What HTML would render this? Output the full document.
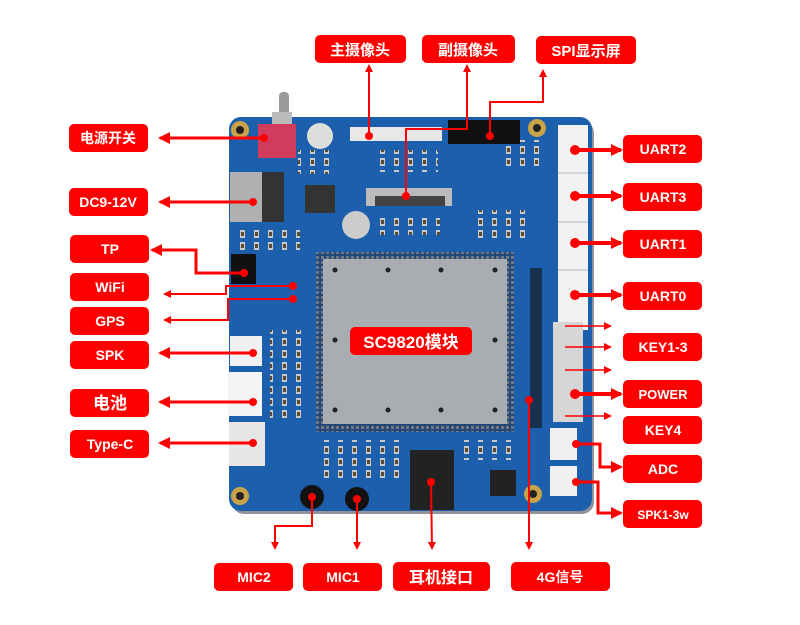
<!DOCTYPE html>
<html><head><meta charset="utf-8"><style>
html,body{margin:0;padding:0;background:#fff;}
svg{display:block}
text{font-family:"Liberation Sans","Noto Sans CJK SC",sans-serif;font-weight:bold;fill:#fff;text-anchor:middle}
</style></head><body>
<svg width="800" height="625" viewBox="0 0 800 625" xmlns="http://www.w3.org/2000/svg">
<defs>
<marker id="a" markerWidth="8" markerHeight="8" refX="6" refY="4" orient="auto" markerUnits="userSpaceOnUse"><path d="M0,0 L8,4 L0,8 z" fill="#f00"/></marker>
<marker id="b" markerWidth="12" markerHeight="12" refX="10" refY="6" orient="auto" markerUnits="userSpaceOnUse"><path d="M0,0 L12,6 L0,12 z" fill="#f00"/></marker>
<pattern id="comp" width="14" height="12" patternUnits="userSpaceOnUse"><rect x="2" y="2" width="5" height="8" fill="#c9c9c9"/><rect x="3" y="4" width="3" height="4" fill="#5a4a30"/></pattern>
<pattern id="pins" width="5" height="5" patternUnits="userSpaceOnUse"><rect x="1" y="1" width="3" height="3" fill="#d8d8d8"/></pattern>
</defs>
<!-- board -->
<rect x="232" y="121" width="362" height="393" rx="12" fill="#1f2a3a" opacity="0.5"/>
<rect x="229" y="117" width="363" height="394" rx="12" fill="#1c5fac"/>
<!-- small components texture -->
<rect x="298" y="150" width="40" height="24" fill="url(#comp)"/>
<rect x="378" y="150" width="60" height="22" fill="url(#comp)"/>
<rect x="240" y="230" width="60" height="20" fill="url(#comp)"/>
<rect x="380" y="215" width="60" height="20" fill="url(#comp)"/>
<rect x="470" y="210" width="60" height="30" fill="url(#comp)"/>
<rect x="270" y="330" width="40" height="90" fill="url(#comp)"/>
<rect x="320" y="440" width="80" height="40" fill="url(#comp)"/>
<rect x="460" y="440" width="60" height="20" fill="url(#comp)"/>
<rect x="500" y="140" width="40" height="30" fill="url(#comp)"/>
<!-- switch -->
<rect x="279" y="92" width="10" height="28" rx="4" fill="#9a9a9a"/>
<rect x="272" y="112" width="20" height="16" fill="#bbb"/>
<rect x="258" y="124" width="38" height="34" fill="#d23c5c"/>
<!-- mounting holes -->
<circle cx="240" cy="130" r="9" fill="#c9a24a"/><circle cx="240" cy="130" r="4" fill="#222"/>
<circle cx="537" cy="128" r="9" fill="#c9a24a"/><circle cx="537" cy="128" r="4" fill="#222"/>
<circle cx="240" cy="496" r="9" fill="#c9a24a"/><circle cx="240" cy="496" r="4" fill="#222"/>
<circle cx="533" cy="494" r="9" fill="#c9a24a"/><circle cx="533" cy="494" r="4" fill="#222"/>
<!-- DC jack -->
<rect x="230" y="172" width="52" height="50" fill="#b0b0b0"/><rect x="262" y="172" width="22" height="50" fill="#333"/>
<!-- caps -->
<circle cx="320" cy="136" r="13" fill="#ddd"/><circle cx="356" cy="225" r="14" fill="#ccc"/>
<rect x="305" y="185" width="30" height="28" fill="#333"/>
<!-- camera connectors -->
<rect x="350" y="127" width="92" height="14" fill="#e8e8e8"/>
<rect x="366" y="188" width="86" height="18" fill="#bbb"/><rect x="375" y="196" width="70" height="10" fill="#444"/>
<!-- LCD header -->
<rect x="448" y="120" width="72" height="24" fill="#111"/>
<!-- TP header -->
<rect x="231" y="254" width="25" height="30" fill="#111"/>
<!-- right white connectors -->
<rect x="558" y="125" width="30" height="205" fill="#f2f2f2"/>
<line x1="558" y1="173" x2="588" y2="173" stroke="#bbb"/><line x1="558" y1="222" x2="588" y2="222" stroke="#bbb"/><line x1="558" y1="270" x2="588" y2="270" stroke="#bbb"/>
<rect x="553" y="322" width="30" height="100" fill="#d6d6d6"/>
<rect x="550" y="428" width="27" height="32" fill="#f0f0f0"/><rect x="550" y="466" width="27" height="30" fill="#f0f0f0"/>
<!-- left white connectors -->
<rect x="230" y="336" width="32" height="30" fill="#f0f0f0"/><rect x="228" y="372" width="34" height="44" fill="#f4f4f4"/>
<rect x="229" y="422" width="36" height="44" fill="#e6e6e6"/>
<!-- module -->
<rect x="316" y="252" width="198" height="180" fill="url(#pins)"/>
<rect x="316" y="252" width="198" height="180" fill="#2a3850" opacity="0.6"/>
<rect x="323" y="259" width="184" height="165" fill="#a9adb2"/>
<g fill="#222"><circle cx="335" cy="270" r="2.5"/><circle cx="388" cy="270" r="2.5"/><circle cx="441" cy="270" r="2.5"/><circle cx="495" cy="270" r="2.5"/>
<circle cx="335" cy="340" r="2.5"/><circle cx="495" cy="340" r="2.5"/>
<circle cx="335" cy="410" r="2.5"/><circle cx="388" cy="410" r="2.5"/><circle cx="441" cy="410" r="2.5"/><circle cx="495" cy="410" r="2.5"/></g>
<rect x="350" y="327" width="122" height="28" rx="5" fill="#f00"/>
<text x="411" y="348" font-size="17">SC9820模块</text>
<!-- GPIO header -->
<rect x="530" y="268" width="12" height="160" fill="#1a3050"/>
<!-- earphone jack, mics, IC -->
<rect x="410" y="450" width="44" height="60" fill="#222"/>
<circle cx="312" cy="497" r="12" fill="#111"/><circle cx="357" cy="499" r="12" fill="#111"/>
<rect x="490" y="470" width="26" height="26" fill="#222"/>
<!-- connectors -->
<g stroke="#f00" fill="none" stroke-width="3">
<line x1="264" y1="138" x2="160" y2="138" marker-end="url(#b)"/>
<line x1="253" y1="202" x2="160" y2="202" marker-end="url(#b)"/>
<polyline points="244,273 196,273 196,250 152,250" marker-end="url(#b)"/>
<polyline points="293,286 226,286 226,294 165,294" stroke-width="2" marker-end="url(#a)"/>
<polyline points="293,299 228,299 228,320 165,320" stroke-width="2" marker-end="url(#a)"/>
<line x1="253" y1="353" x2="160" y2="353" marker-end="url(#b)"/>
<line x1="253" y1="402" x2="160" y2="402" marker-end="url(#b)"/>
<line x1="253" y1="443" x2="160" y2="443" marker-end="url(#b)"/>
<line x1="575" y1="150" x2="621" y2="150" stroke-width="4" marker-end="url(#b)"/>
<line x1="575" y1="196" x2="621" y2="196" stroke-width="4" marker-end="url(#b)"/>
<line x1="575" y1="243" x2="621" y2="243" stroke-width="4" marker-end="url(#b)"/>
<line x1="575" y1="295" x2="621" y2="295" stroke-width="4" marker-end="url(#b)"/>
<line x1="565" y1="326" x2="610" y2="326" stroke-width="1.5" marker-end="url(#a)"/>
<line x1="565" y1="347" x2="610" y2="347" stroke-width="1.5" marker-end="url(#a)"/>
<line x1="565" y1="370" x2="610" y2="370" stroke-width="1.5" marker-end="url(#a)"/>
<line x1="575" y1="394" x2="621" y2="394" stroke-width="4" marker-end="url(#b)"/>
<line x1="565" y1="416" x2="610" y2="416" stroke-width="1.5" marker-end="url(#a)"/>
<polyline points="576,444 600,444 600,467 621,467" marker-end="url(#b)"/>
<polyline points="576,482 598,482 598,513 621,513" marker-end="url(#b)"/>
<polyline points="312,497 312,526 275,526 275,548" stroke-width="2" marker-end="url(#a)"/>
<line x1="357" y1="499" x2="357" y2="548" stroke-width="2" marker-end="url(#a)"/>
<line x1="431" y1="482" x2="432" y2="548" stroke-width="2" marker-end="url(#a)"/>
<line x1="529" y1="400" x2="529" y2="548" stroke-width="2" marker-end="url(#a)"/>
<line x1="369" y1="136" x2="369" y2="66" stroke-width="2" marker-end="url(#a)"/>
<polyline points="406,196 406,129 467,129 467,66" stroke-width="2" marker-end="url(#a)"/>
<polyline points="490,136 490,102 543,102 543,71" stroke-width="2" marker-end="url(#a)"/>
</g>
<g fill="#f00">
<circle cx="264" cy="138" r="4"/><circle cx="253" cy="202" r="4"/><circle cx="244" cy="273" r="4"/>
<circle cx="293" cy="286" r="4"/><circle cx="293" cy="299" r="4"/><circle cx="253" cy="353" r="4"/>
<circle cx="253" cy="402" r="4"/><circle cx="253" cy="443" r="4"/>
<circle cx="575" cy="150" r="5"/><circle cx="575" cy="196" r="5"/><circle cx="575" cy="243" r="5"/>
<circle cx="575" cy="295" r="5"/><circle cx="575" cy="394" r="5"/><circle cx="576" cy="444" r="4"/><circle cx="576" cy="482" r="4"/>
<circle cx="312" cy="497" r="4"/><circle cx="357" cy="499" r="4"/><circle cx="431" cy="482" r="4"/><circle cx="529" cy="400" r="4"/>
<circle cx="369" cy="136" r="4"/><circle cx="406" cy="196" r="4"/><circle cx="490" cy="136" r="4"/>
</g>
<!-- labels -->
<g fill="#f00">
<rect x="69" y="124" width="79" height="28" rx="5"/><rect x="69" y="188" width="79" height="28" rx="5"/>
<rect x="70" y="235" width="79" height="28" rx="5"/><rect x="70" y="273" width="79" height="28" rx="5"/>
<rect x="70" y="307" width="79" height="28" rx="5"/><rect x="70" y="341" width="79" height="28" rx="5"/>
<rect x="70" y="389" width="79" height="28" rx="5"/><rect x="70" y="430" width="79" height="28" rx="5"/>
<rect x="623" y="135" width="79" height="28" rx="5"/><rect x="623" y="183" width="79" height="28" rx="5"/>
<rect x="623" y="230" width="79" height="28" rx="5"/><rect x="623" y="282" width="79" height="28" rx="5"/>
<rect x="623" y="333" width="79" height="28" rx="5"/><rect x="623" y="380" width="79" height="28" rx="5"/>
<rect x="623" y="416" width="79" height="28" rx="5"/><rect x="623" y="455" width="79" height="28" rx="5"/>
<rect x="623" y="500" width="79" height="28" rx="5"/>
<rect x="214" y="563" width="79" height="28" rx="5"/><rect x="303" y="563" width="79" height="28" rx="5"/>
<rect x="393" y="562" width="97" height="29" rx="5"/><rect x="511" y="562" width="99" height="29" rx="5"/>
<rect x="315" y="35" width="91" height="28" rx="5"/><rect x="422" y="35" width="93" height="28" rx="5"/>
<rect x="536" y="36" width="100" height="28" rx="5"/>
</g>
<g font-size="14">
<text x="108" y="143">电源开关</text><text x="108" y="207">DC9-12V</text>
<text x="110" y="254">TP</text><text x="110" y="292">WiFi</text><text x="110" y="326">GPS</text>
<text x="110" y="360">SPK</text><text x="110" y="409" font-size="17">电池</text><text x="110" y="449">Type-C</text>
<text x="663" y="154">UART2</text><text x="663" y="202">UART3</text><text x="663" y="249">UART1</text>
<text x="663" y="301">UART0</text><text x="663" y="352">KEY1-3</text><text x="663" y="399" font-size="13">POWER</text>
<text x="663" y="435">KEY4</text><text x="663" y="474">ADC</text><text x="663" y="519" font-size="12">SPK1-3w</text>
<text x="254" y="582">MIC2</text><text x="343" y="582">MIC1</text>
<text x="441" y="583" font-size="16">耳机接口</text><text x="560" y="582">4G信号</text>
<text x="360" y="55" font-size="15">主摄像头</text><text x="468" y="55" font-size="15">副摄像头</text>
<text x="586" y="56" font-size="15">SPI显示屏</text>
</g>
</svg>
</body></html>
